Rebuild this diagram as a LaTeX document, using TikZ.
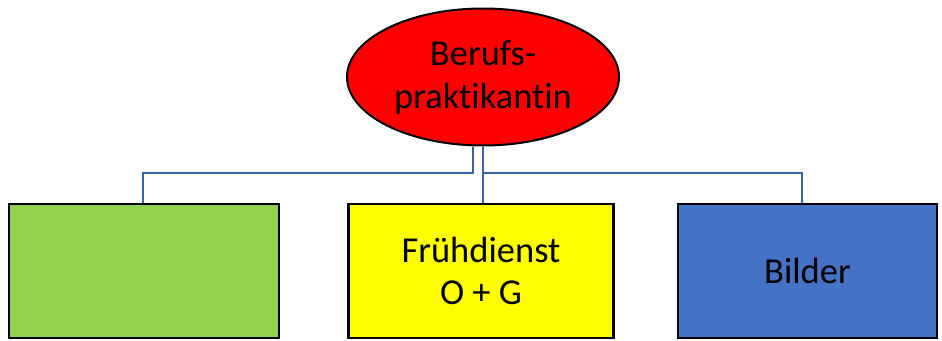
\documentclass[tikz,border=0pt]{standalone}
\usepackage{fontspec}
\setmainfont{Carlito}[RawFeature=-liga]
\usetikzlibrary{shapes.geometric}
\definecolor{ered}{HTML}{FF0000}
\definecolor{bgreen}{HTML}{92D050}
\definecolor{byellow}{HTML}{FFFF00}
\definecolor{bblue}{HTML}{4472C4}
\definecolor{cline}{HTML}{3A62A8}
\tikzset{
  box/.style={draw=black, line width=2.6pt, minimum height=134pt, align=center, inner sep=0pt, font=\fontsize{36.5}{42}\selectfont},
  conn/.style={draw=cline, line width=2pt},
}
\begin{document}
\begin{tikzpicture}[x=1pt,y=-1pt]
\useasboundingbox (0,0) rectangle (942,340);
\node[ellipse, draw=black, line width=2pt, fill=ered, minimum width=272pt, minimum height=137pt, inner sep=0pt, align=center, font=\fontsize{36.5}{43}\selectfont] (e) at (483,77) {Berufs-\\praktikantin};
\node[box, fill=bgreen, minimum width=270pt] (g) at (144,271) {};
\node[box, fill=byellow, minimum width=265pt] (y) at (481,271) {Frühdienst\\O + G};
\node[box, fill=bblue, minimum width=259pt] (b) at (807.5,271) {Bilder};
\coordinate (hl) at (0,173);
\draw[conn] ([xshift=-10pt]e.south) |- ([xshift=-1pt]g.north |- hl) -- ([xshift=-1pt]g.north);
\draw[conn] (e.south) |- ([xshift=-5.5pt]b.north |- hl) -- ([xshift=-5.5pt]b.north);
\draw[conn] (e.south) -- (e.south |- y.north);
\end{tikzpicture}
\end{document}
